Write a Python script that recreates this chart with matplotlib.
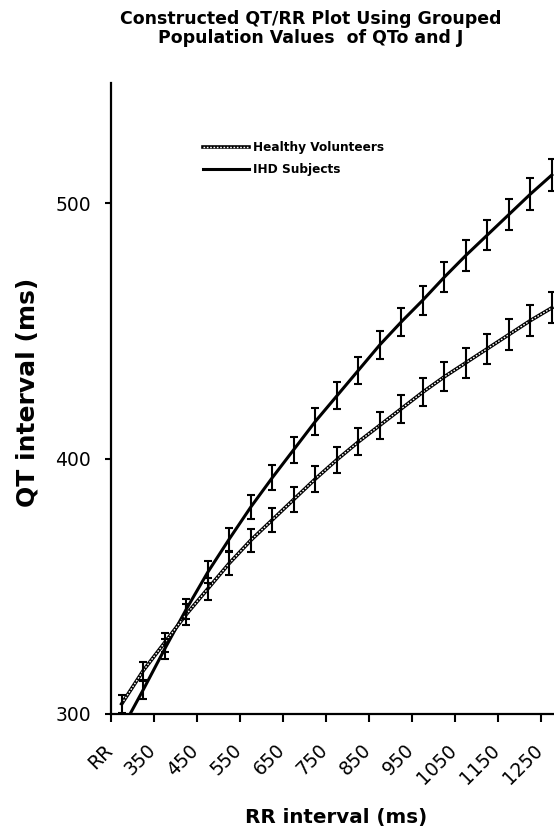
import matplotlib
matplotlib.use("Agg")
import matplotlib.pyplot as plt
import matplotlib.transforms as mtransforms
import numpy as np

# categories of the Excel-style axis (first cell is the column header "RR")
categories = ["RR", "300", "350", "400", "450", "500", "550", "600", "650", "700", "750",
              "800", "850", "900", "950", "1000", "1050", "1100", "1150", "1200", "1250"]
shown_labels = ["RR", "350", "450", "550", "650", "750", "850", "950", "1050", "1150", "1250"]

healthy_qt = [304, 317, 328, 339, 349, 359, 368, 376, 384, 392, 399.5,
              406.5, 413, 419.5, 426, 432, 437.5, 443, 448.5, 454, 459]
healthy_err = [3.5, 3.5, 3.8, 4.0, 4.2, 4.4, 4.6, 4.8, 5.0, 5.1, 5.2,
               5.3, 5.4, 5.5, 5.6, 5.7, 5.8, 5.9, 6.0, 6.0, 6.1]
ihd_qt = [294, 309.5, 325.5, 341, 355.5, 368.5, 381, 392.5, 403.5, 414.5, 424.5,
          434.5, 444.5, 453.5, 462, 471, 479.5, 487.5, 495.5, 503.5, 511]
ihd_err = [3.5, 3.6, 3.8, 4.0, 4.2, 4.5, 4.7, 4.9, 5.1, 5.2, 5.3,
           5.4, 5.5, 5.6, 5.7, 5.8, 5.9, 6.0, 6.1, 6.2, 6.3]

plt.rcParams['font.family'] = ['DejaVu Sans']

fig = plt.figure(figsize=(5.54, 8.33), dpi=100)
ax = fig.add_axes([111 / 554, 1 - 714 / 833, 1 - 111 / 554, 631 / 833])

x = np.arange(len(categories))

# healthy volunteers: black outline with white dotted core
h1, = ax.plot(x, healthy_qt, color='black', lw=2.6, zorder=2)
h2, = ax.plot(x, healthy_qt, color='white', lw=1.0, dashes=(1.2, 1.2), zorder=2.1)
i1, = ax.plot(x, ihd_qt, color='black', lw=2.2, zorder=2)

ax.errorbar(x, healthy_qt, yerr=healthy_err, fmt='none', ecolor='black',
            elinewidth=1.5, capsize=3, capthick=1.5, zorder=3)
ax.errorbar(x, ihd_qt, yerr=ihd_err, fmt='none', ecolor='black',
            elinewidth=1.5, capsize=3, capthick=1.5, zorder=3)

ax.set_xlim(-0.5, 20.1)
ax.set_ylim(300, 547)

for s in ['top', 'right']:
    ax.spines[s].set_visible(False)
for s in ['left', 'bottom']:
    ax.spines[s].set_linewidth(1.6)

ax.set_yticks([300, 400, 500])
ax.tick_params(axis='y', direction='out', length=4.5, width=1.5, pad=10, labelsize=13.5)

# tick marks between every second category, labels at category centres
ax.set_xticks(np.arange(-0.5, 20, 2))
ax.set_xticklabels([])
ax.set_xticks(x[::2], minor=True)
ax.set_xticklabels(shown_labels, minor=True, rotation=45, ha='right', va='center',
                   rotation_mode='anchor', fontsize=13.5)
ax.tick_params(axis='x', which='major', direction='out', length=6, width=1.5)
ax.tick_params(axis='x', which='minor', length=0, pad=24)
shift = mtransforms.ScaledTranslation(-12 / 100, 0, fig.dpi_scale_trans)
for lbl in ax.get_xticklabels(minor=True):
    lbl.set_transform(lbl.get_transform() + shift)

leg = ax.legend([(h1, h2), i1], ['Healthy Volunteers', 'IHD Subjects'],
                loc='upper left', bbox_to_anchor=(203 / 554, 1 - 141 / 833),
                bbox_transform=fig.transFigure, frameon=False, borderpad=0,
                borderaxespad=0, handlelength=3.8, handletextpad=0.3,
                labelspacing=0.75, prop={'weight': 'bold', 'size': 8.7})

fig.text(311 / 554, 1 - 10 / 833, 'Constructed QT/RR Plot Using Grouped\nPopulation Values  of QTo and J',
         ha='center', va='top', fontsize=12.5, fontweight='bold', linespacing=1.1)
fig.text(28 / 554, 1 - 392 / 833, 'QT interval (ms)', rotation=90, ha='center', va='center',
         fontsize=18, fontweight='bold')
fig.text(336 / 554, 1 - 818 / 833, 'RR interval (ms)', ha='center', va='center',
         fontsize=14.3, fontweight='bold')

fig.savefig('out.png', dpi=100)
